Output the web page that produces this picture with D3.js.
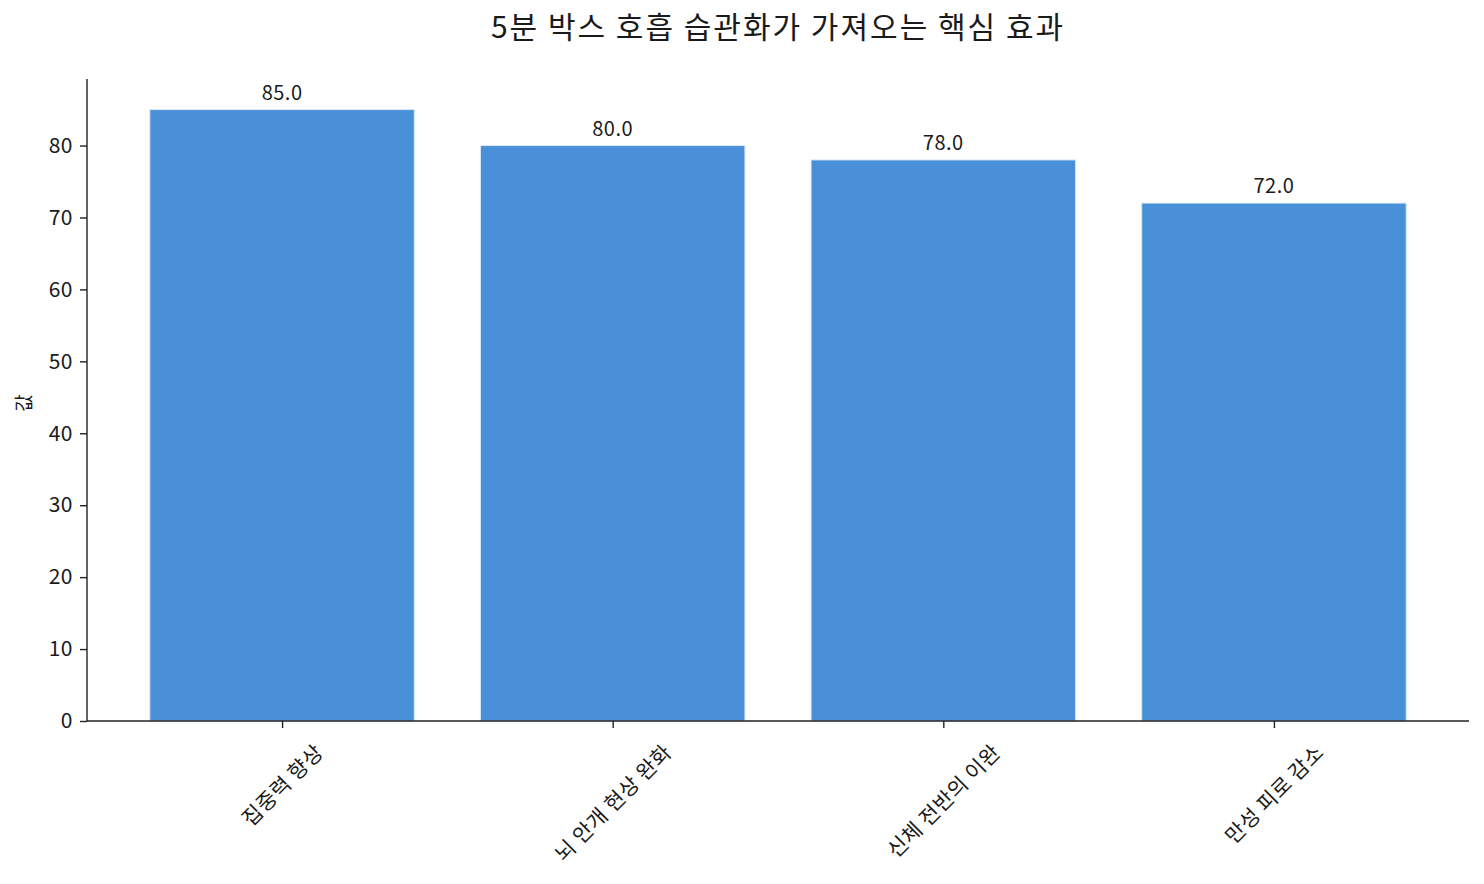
<!DOCTYPE html>
<html>
<head>
<meta charset="utf-8">
<script src="https://cdn.jsdelivr.net/npm/d3@7"></script>
<style>
  body { margin: 0; background: #fff; }
  text { font-family: "Noto Sans CJK KR", "Noto Sans", sans-serif; fill: #1a1a1a; }
</style>
</head>
<body>
<svg id="chart" width="1484" height="884"></svg>
<script>
const categories = ["집중력 향상", "뇌 안개 현상 완화", "신체 전반의 이완", "만성 피로 감소"];
const values = [85.0, 80.0, 78.0, 72.0];
const yTicks = [0, 10, 20, 30, 40, 50, 60, 70, 80];
const chartTitle = "5분 박스 호흡 습관화가 가져오는 핵심 효과";
const yLabel = "값";

const margin = { top: 79, right: 15, bottom: 163, left: 87 },
    width = 1484 - margin.left - margin.right,
    height = 884 - margin.top - margin.bottom;

const svg = d3.select("#chart")
    .append("g")
    .attr("transform", `translate(${margin.left},${margin.top})`);

// x scale in bar-index units, like matplotlib's default margins
const x = d3.scaleLinear()
    .domain([-0.59, categories.length - 1 + 0.59])
    .range([0, width]);
const barW = x(0.8) - x(0);

const y = d3.scaleLinear()
    .domain([0, d3.max(values) * 1.05])
    .range([height, 0]);

// bars
svg.selectAll("rect.bar")
    .data(values)
    .enter()
    .append("rect")
    .attr("class", "bar")
    .attr("x", (d, i) => x(i) - barW / 2)
    .attr("width", barW)
    .attr("y", d => y(d))
    .attr("height", d => y(0) - y(d))
    .attr("fill", "#4a90d9")
    .attr("stroke", "#dbe9f8")
    .attr("stroke-width", 1);

// value labels
svg.selectAll("text.val")
    .data(values)
    .enter()
    .append("text")
    .attr("class", "val")
    .attr("x", (d, i) => x(i))
    .attr("y", d => y(d) - 10)
    .attr("text-anchor", "middle")
    .style("font-size", "20px")
    .style("letter-spacing", "0.5px")
    .text(d => d.toFixed(1));

// Y axis
const yAxis = svg.append("g")
    .call(d3.axisLeft(y).tickValues(yTicks).tickSize(7).tickPadding(7));
yAxis.selectAll("text").style("font-size", "21px").style("letter-spacing", "0.5px");
yAxis.select(".domain").attr("d", `M0,${height}V0`);

// X axis
const xAxis = svg.append("g")
    .attr("transform", `translate(0,${height})`)
    .call(d3.axisBottom(x).tickValues(d3.range(categories.length)).tickFormat(i => categories[i]).tickSize(7));
xAxis.select(".domain").attr("d", `M0,0H${width}`);

// rotated labels centred under the tick, top of rotated box just below the axis
const labelSize = 21;
xAxis.selectAll(".tick text")
    .style("font-size", labelSize + "px")
    .style("letter-spacing", "0.5px")
    .attr("text-anchor", "middle")
    .attr("dy", "0.35em")
    .attr("x", 0)
    .attr("y", 0)
    .each(function () {
        const w = this.getComputedTextLength();
        const cy = 20 + (w + labelSize) / Math.SQRT2 / 2;
        d3.select(this).attr("transform", `translate(0,${cy}) rotate(-45)`);
    });

svg.selectAll(".domain").attr("stroke", "#222").attr("stroke-width", 1.4);
svg.selectAll(".tick line").attr("stroke", "#222").attr("stroke-width", 1.4);

// Y axis label
svg.append("text")
    .attr("text-anchor", "middle")
    .attr("dy", "0.35em")
    .attr("transform", `translate(${-margin.left + 24}, ${height / 2 + 3}) rotate(-90)`)
    .style("font-size", "19px")
    .text(yLabel);

// title
d3.select("#chart").append("text")
    .attr("x", margin.left + width / 2)
    .attr("y", 38)
    .attr("text-anchor", "middle")
    .style("font-size", "30px")
    .style("letter-spacing", "2px")
    .text(chartTitle);
</script>
</body>
</html>
